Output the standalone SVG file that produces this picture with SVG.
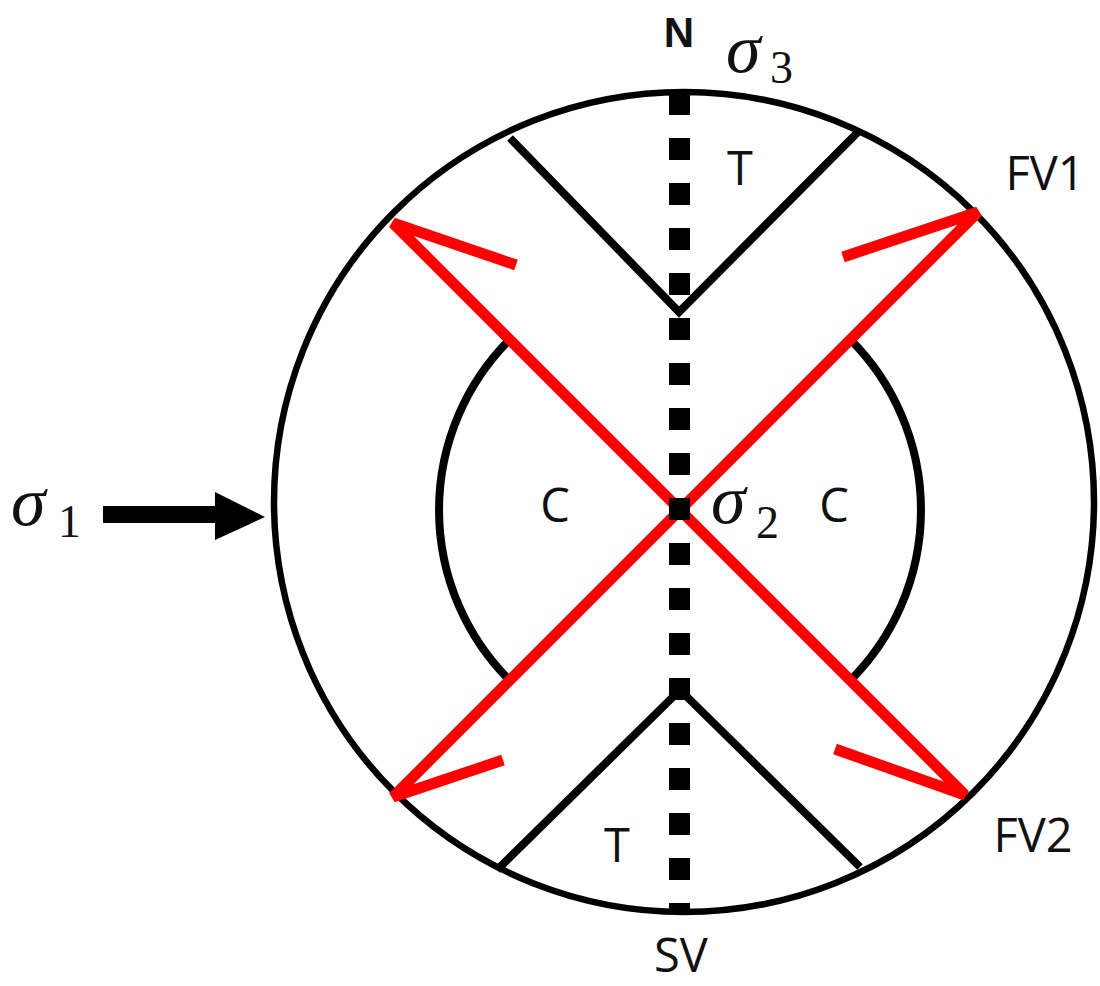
<svg xmlns="http://www.w3.org/2000/svg" width="1100" height="986" viewBox="0 0 1100 986">
<style>
.blk{fill:none;stroke:#000;}
.red{fill:none;stroke:#f00;stroke-width:11;stroke-linejoin:miter;}
.lbl{font-family:"Open Sans","Liberation Sans",sans-serif;font-size:47px;fill:#111;}
.sig{font-family:"Liberation Serif","DejaVu Serif",serif;font-style:italic;font-size:70px;fill:#111;}
.sub{font-family:"Liberation Serif","DejaVu Serif",serif;font-size:46px;fill:#111;}
</style>
<rect width="1100" height="986" fill="#fff"/>
<g id="outer-circle">
<circle class="blk" cx="684" cy="502" r="410" stroke-width="6.5"/>
</g>
<g id="inner-arcs">
<path class="blk" stroke-width="8" d="M509.6 339.6 A241 241 0 0 0 509.6 680.4"/>
<path class="blk" stroke-width="8" d="M850.4 339.6 A241 241 0 0 1 850.4 680.4"/>
</g>
<g id="tension-top">
<polyline class="blk" stroke-width="8" points="510,138 679,312 860,130"/>
</g>
<g id="tension-bottom">
<polyline class="blk" stroke-width="8" points="497,870 680,690 860,867"/>
</g>
<g id="fault-FV1-FV2">
<polyline class="red" points="516,265 393,223 965,795 835,749"/>
<polyline class="red" points="843,257 978,212 393,797 503,760"/>
</g>
<g id="vertical-plane-SV">
<line x1="679.5" y1="93" x2="679.5" y2="914" stroke="#000" stroke-width="21" stroke-dasharray="22 23"/>
</g>
<g id="connectors">
<rect x="103" y="506" width="117" height="17" fill="#000"/>
<polygon points="215,492 265,517 215,540" fill="#000"/>
</g>
<g id="labels">
<text x="679" y="47" text-anchor="middle" font-family="Liberation Sans, Arial, sans-serif" font-weight="bold" font-size="42" fill="#111">N</text>
<text class="sig" x="726" y="72">σ</text><text class="sub" x="770" y="83">3</text>
<text class="sig" x="11" y="525">σ</text><text class="sub" x="58" y="537">1</text>
<text class="sig" x="711" y="523">σ</text><text class="sub" x="756" y="538">2</text>
<text class="lbl" x="740" y="185" text-anchor="middle">T</text>
<text class="lbl" x="617" y="862" text-anchor="middle">T</text>
<text class="lbl" x="555" y="522" text-anchor="middle">C</text>
<text class="lbl" x="834" y="522" text-anchor="middle">C</text>
<text class="lbl" x="1045" y="190" text-anchor="middle">FV1</text>
<text class="lbl" x="1033" y="852" text-anchor="middle">FV2</text>
<text class="lbl" x="681" y="972" text-anchor="middle" font-size="43">SV</text>
</g>
</svg>
